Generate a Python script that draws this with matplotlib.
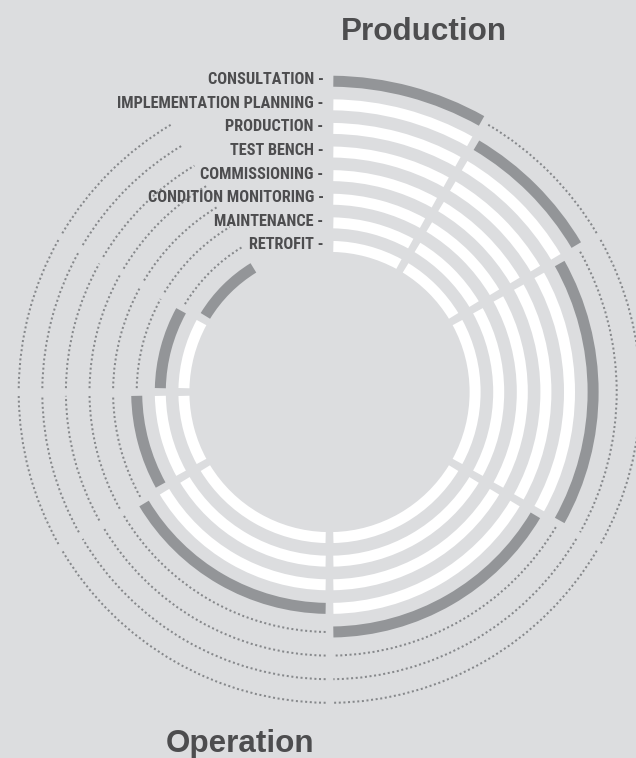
import matplotlib
matplotlib.use("Agg")
import math
import matplotlib.pyplot as plt
from matplotlib.patches import Wedge, Arc
from matplotlib import font_manager

# ---------------- data ----------------
services = ["CONSULTATION", "IMPLEMENTATION PLANNING", "PRODUCTION", "TEST BENCH",
            "COMMISSIONING", "CONDITION MONITORING", "MAINTENANCE", "RETROFIT"]
# stage sectors, degrees clockwise from 12 o'clock
stage_start = [0, 30, 60, 120, 180, 240, 270, 300]
stage_end = [30, 60, 120, 180, 240, 270, 300, 330]
# W = passed (white), D = own stage (dark), F = future (dotted)
status = [
    "DFFFFFFF",
    "WDFFFFFF",
    "WWDFFFFF",
    "WWWDFFFF",
    "WWWWDFFF",
    "WWWWWDFF",
    "WWWWWWDF",
    "WWWWWWWD",
]
title_top = "Production"
title_bottom = "Operation"

# ---------------- style ----------------
BG = "#dcdddf"
DARK = "#939598"
WHITE = "#ffffff"
DOT = "#86888b"
TXT = "#4d4d4f"

def pick_font(cands):
    for c in cands:
        try:
            font_manager.findfont(font_manager.FontProperties(family=c, weight="bold"),
                                  fallback_to_default=False)
            return c
        except Exception:
            pass
    return "DejaVu Sans"

label_font = pick_font(["Liberation Sans Narrow", "DejaVu Sans Condensed", "Roboto Condensed", "Liberation Sans"])
title_font = pick_font(["Liberation Sans", "Arial", "DejaVu Sans"])

W, H = 636, 758
fig = plt.figure(figsize=(W / 100, H / 100), dpi=100)
fig.patch.set_facecolor(BG)
ax = fig.add_axes([0, 0, 1, 1])
ax.set_facecolor(BG)
ax.set_xlim(0, W)
ax.set_ylim(H, 0)
ax.set_aspect("equal")
ax.axis("off")

cx, cy = 329.5, 392.0
r_outer = 310.8
step = 23.6
thick = 11.0
gap = 7.7

for i, name in enumerate(services):
    r = r_outer - step * i
    d = math.degrees(math.asin(gap / 2 / r))
    for j in range(len(stage_start)):
        s = status[i][j]
        t1 = stage_start[j] + d - 90
        t2 = stage_end[j] - d - 90
        if s in "WD":
            ax.add_patch(Wedge((cx, cy), r + thick / 2, t1, t2, width=thick,
                               facecolor=WHITE if s == "W" else DARK, edgecolor="none"))
        else:
            ax.add_patch(Arc((cx, cy), 2 * r, 2 * r, theta1=t1, theta2=t2,
                             color=DOT, lw=1.45, linestyle=(0, (1, 1.3))))
    ax.text(323.5, cy - r + 3.0, name + " -", ha="right", va="baseline",
            fontsize=11.7, fontweight="bold", family=label_font, color=TXT)

ax.text(423.5, 40, title_top, ha="center", va="baseline", fontsize=22.6,
        fontweight="bold", family=title_font, color=TXT)
ax.text(240, 752, title_bottom, ha="center", va="baseline", fontsize=22.6,
        fontweight="bold", family=title_font, color=TXT)

fig.savefig("out.png", dpi=100, facecolor=BG)
